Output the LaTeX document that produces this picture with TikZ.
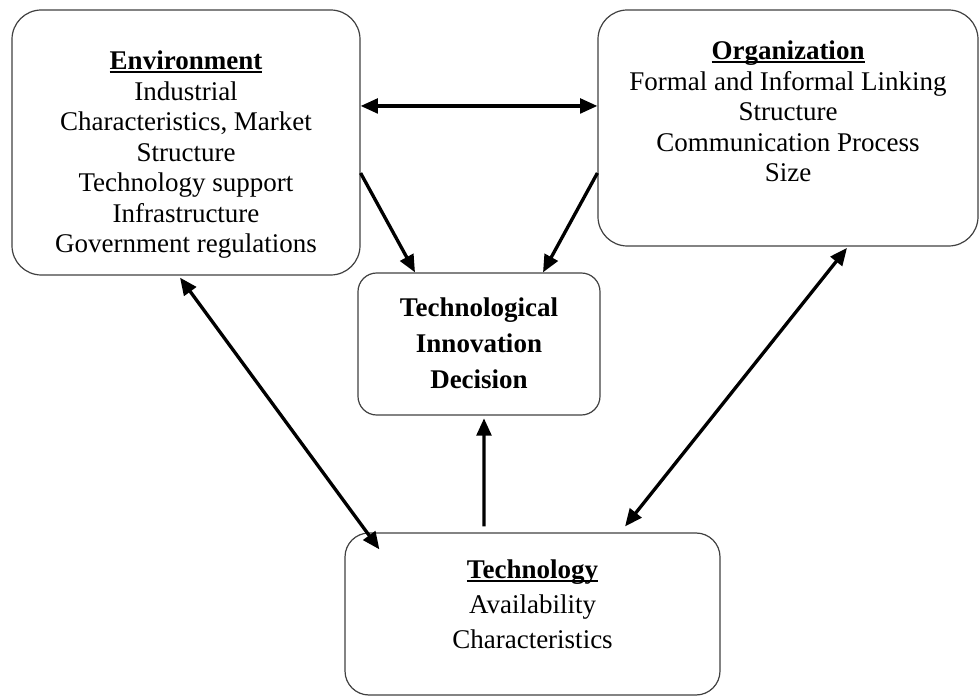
\documentclass[tikz,border=0pt]{standalone}
\usepackage{fontspec}
\setmainfont{Liberation Serif}
\usepackage{tikz}
\usetikzlibrary{arrows.meta,positioning}
\newcommand{\headul}[1]{\setbox0\hbox{#1}\rlap{\rule[-2.6pt]{\wd0}{1.3pt}}\box0}

\begin{document}
\begin{tikzpicture}[
    x=0.75pt, y=-0.75pt,
    box/.style={draw=black!75, line width=0.9pt, rounded corners=22pt, inner sep=0pt},
    txt/.style={inner sep=0pt, align=center, font=\fontsize{20.25pt}{22.9pt}\selectfont},
    arrow/.style={-{Triangle[length=13pt, width=11pt]}, line width=2.5pt},
    twoway/.style={{Triangle[length=13pt, width=11pt]}-{Triangle[length=13pt, width=11pt]}, line width=2.5pt}
]
\useasboundingbox (0,0) rectangle (979,698);

% Boxes
\node[box, minimum width=261pt, minimum height=198.75pt] (env) at (186,142.5) {};
\node[box, minimum width=285pt, minimum height=177pt] (org) at (788,128) {};
\node[box, rounded corners=14pt, minimum width=181.5pt, minimum height=106.5pt] (dec) at (479,344) {};
\node[box, rounded corners=18pt, minimum width=281.25pt, minimum height=121.5pt] (tech) at (532.5,614) {};

% Texts
\node[txt, below=31pt of env.north] (envtext) {\headul{\textbf{Environment}}\\Industrial\\Characteristics, Market\\Structure\\Technology support\\Infrastructure\\Government regulations};
\node[txt, below=23.5pt of org.north] (orgtext) {\headul{\textbf{Organization}}\\Formal and Informal Linking\\Structure\\Communication Process\\Size};
\node[txt, font=\fontsize{20.25pt}{27pt}\selectfont\bfseries, below=19pt of dec.north] (dectext) {Technological\\Innovation\\Decision};
\node[txt, font=\fontsize{20.25pt}{26.25pt}\selectfont, below=20.5pt of tech.north] (techtext) {\headul{\textbf{Technology}}\\Availability\\Characteristics};

% Arrows
\coordinate (linkL) at ([yshift=27.4pt]env.east);
\draw[twoway] (linkL) -- (linkL -| org.west);
\draw[arrow] ([yshift=-22.9pt]env.east) -- ([xshift=-48pt]dec.north);
\draw[arrow] ([yshift=-33.75pt]org.west) -- ([xshift=48pt]dec.north);
\draw[arrow] ([xshift=-36.4pt, yshift=4.5pt]tech.north) -- ([xshift=3.75pt, yshift=-2pt]dec.south);
\draw[twoway] ([xshift=-4.5pt, yshift=-1.5pt]env.south) -- ([xshift=26.25pt, yshift=-12.75pt]tech.north west);
\draw[twoway] ([xshift=44.25pt, yshift=-1pt]org.south) -- ([xshift=69.4pt, yshift=4.5pt]tech.north);

\end{tikzpicture}
\end{document}
